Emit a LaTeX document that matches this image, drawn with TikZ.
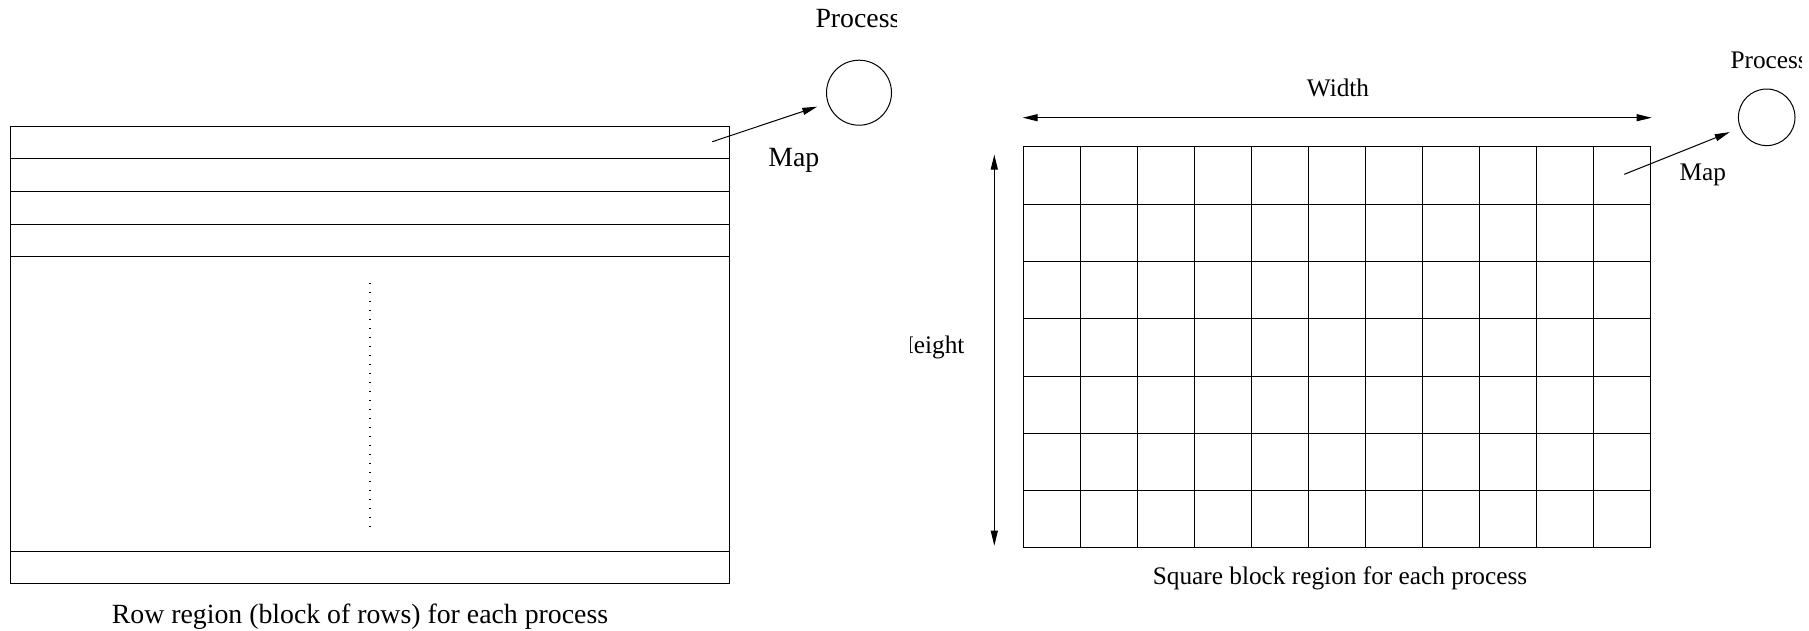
\documentclass[tikz,border=0pt]{standalone}
\usepackage{fontspec}
\setmainfont{Liberation Serif}
\usetikzlibrary{arrows.meta}

\begin{document}
\begin{tikzpicture}[
  x=1pt, y=-1pt,
  line width=1pt,
  strip/.style={draw,rectangle,anchor=north west,inner sep=0pt,minimum width=719pt},
  cell/.style={draw,rectangle,anchor=north west,inner sep=0pt,minimum width=49.9pt,minimum height=57.3pt},
  proc/.style={draw,circle,inner sep=0pt},
  ]
  \tikzset{%
    bigtext/.style={inner sep=0pt,font=\fontsize{27.8}{30}\selectfont},
    smalltext/.style={inner sep=0pt,font=\fontsize{25.3}{28}\selectfont},
    maparrow/.style={-{Triangle[length=15pt,width=7pt]}},
    dimarrow/.style={{Triangle[length=15pt,width=7pt]}-{Triangle[length=15pt,width=7pt]}},
  }
  \useasboundingbox (0,0) rectangle (1809,630);
  %Row region
  \node[strip,minimum height=32.6pt](row1) at (10,125.7){};
  \node[strip,minimum height=32.6pt](row2) at (10,158.3){};
  \node[strip,minimum height=32.6pt](row3) at (10,190.9){};
  \node[strip,minimum height=32.6pt](row4) at (10,223.5){};
  \node[strip,minimum height=294.6pt](rows) at (10,256.1){};
  \node[strip,minimum height=32pt](rowN) at (10,550.7){};
  \draw[dash pattern=on 1.5pt off 7.5pt,line width=1.5pt]
    (rows.north) ++(0,26.5) coordinate(dotsT) -- ([yshift=23pt]rows.south);
  \node[bigtext,anchor=base](rowcap) at (360,623){Row region (block of rows) for each process};
  %Process and mapping (rows)
  \node[proc,minimum size=65pt](p1) at (859,92.7){};
  \begin{scope}
    \clip (700,0) rectangle (896.7,60);
    \node[bigtext,anchor=base west](p1lab) at (815,27.3){Process};
  \end{scope}
  \coordinate (m1) at (712.3,141.7);
  \draw[maparrow,shorten >=11pt] (m1) -- (p1);
  \node[bigtext,anchor=base](map1) at (793.8,166.7){Map};
  %Square blocks
  \foreach \i in {0,...,10}{
    \foreach \j in {0,...,6}{
      \node[cell,minimum width=57pt](c-\i-\j) at (1022.7+57*\i,146.3+57.3*\j){};
    }
  }
  \coordinate (wl) at (1022.7,117.7);
  \coordinate (wr) at (1651.7,117.7);
  \draw[dimarrow] (wl) -- (wr);
  \node[smalltext,anchor=base](wid) at (1338,96.7){Width};
  \coordinate (ht) at (994.3,154.6);
  \coordinate (hb) at (994.3,545.7);
  \draw[dimarrow] (ht) -- (hb);
  \begin{scope}
    \clip (910,300) rectangle (980,370);
    \node[smalltext,anchor=base east](hgt) at (965,353.3){Height};
  \end{scope}
  \node[smalltext,anchor=base](sqcap) at (1340,584.3){Square block region for each process};
  %Process and mapping (blocks)
  \node[proc,minimum size=56.6pt](p2) at (1766.7,117.3){};
  \begin{scope}
    \clip (1700,30) rectangle (1801.7,80);
    \node[smalltext,anchor=base west](p2lab) at (1730,68.3){Process};
  \end{scope}
  \coordinate (m2) at (1624.3,174.3);
  \draw[maparrow,shorten >=11pt] (m2) -- (p2);
  \node[smalltext,anchor=base](map2) at (1702.9,180){Map};
\end{tikzpicture}
\end{document}
